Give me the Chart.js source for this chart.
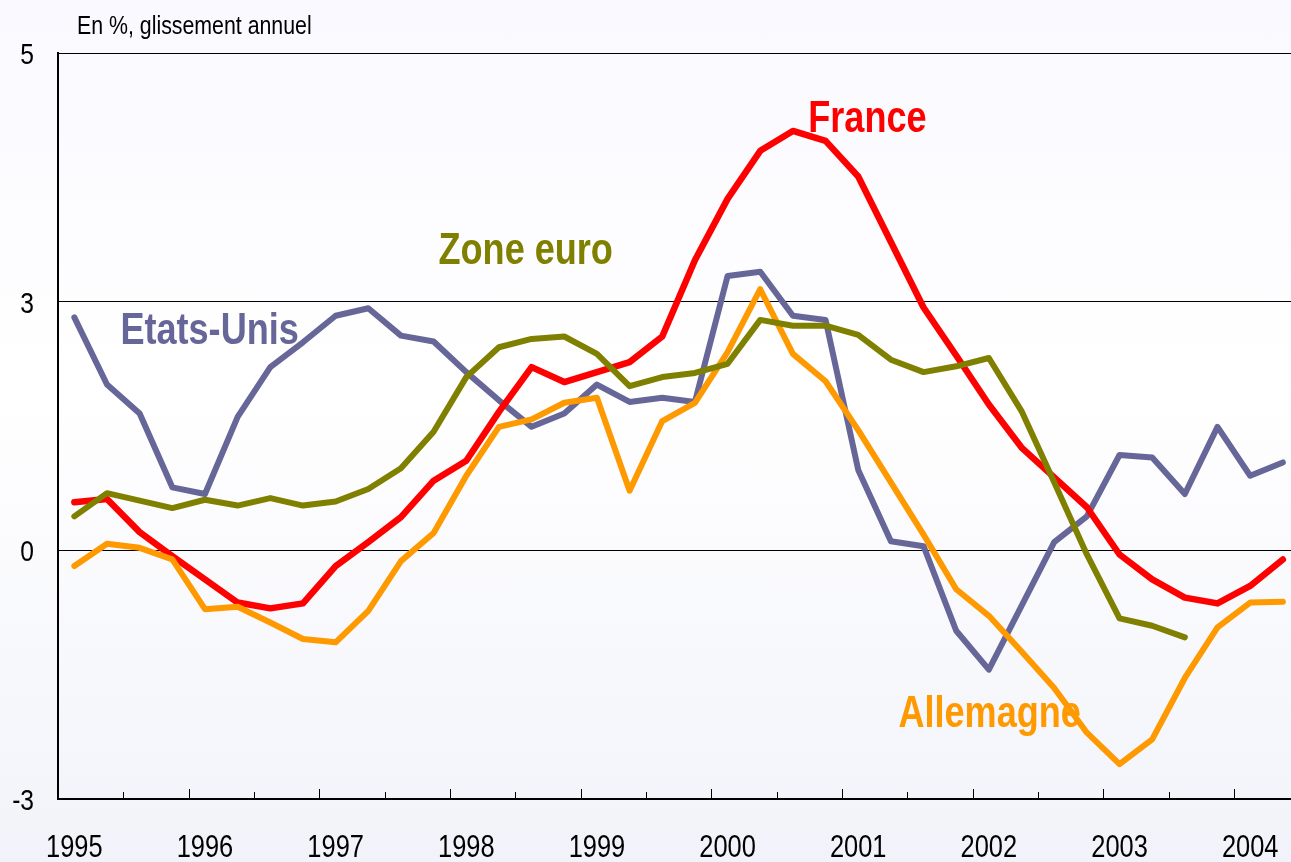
<!DOCTYPE html>
<html lang="fr">
<head>
<meta charset="utf-8">
<script src="https://cdn.jsdelivr.net/npm/chart.js@4.4.1/dist/chart.umd.min.js"></script>
<style>
  html, body { margin: 0; padding: 0; }
  body {
    width: 1291px; height: 862px; overflow: hidden;
    background: linear-gradient(to bottom, #f9f9ff 0%, #ffffff 45%, #f2f3fa 100%);
  }
  #cadre { position: relative; width: 1291px; height: 862px; }
</style>
</head>
<body>
<div id="cadre"><canvas id="graphique"></canvas></div>
<script>
// pas d'Arial Narrow dispo : Liberation Sans compressée horizontalement
const POLICE = "'Liberation Sans', Arial, sans-serif";
const ETROIT = 0.82;

// ---- données : glissement annuel trimestriel, 1995T1 -> 2004T2 ----
const trimestres = [
  '1995T1','1995T2','1995T3','1995T4','1996T1','1996T2','1996T3','1996T4',
  '1997T1','1997T2','1997T3','1997T4','1998T1','1998T2','1998T3','1998T4',
  '1999T1','1999T2','1999T3','1999T4','2000T1','2000T2','2000T3','2000T4',
  '2001T1','2001T2','2001T3','2001T4','2002T1','2002T2','2002T3','2002T4',
  '2003T1','2003T2','2003T3','2003T4','2004T1','2004T2',
];

const france = [
  0.58, 0.62, 0.22, -0.07, -0.35, -0.63, -0.70, -0.64,
  -0.19, 0.10, 0.40, 0.84, 1.08, 1.67, 2.21, 2.03,
  2.15, 2.27, 2.58, 3.50, 4.24, 4.82, 5.06, 4.94,
  4.51, 3.72, 2.93, 2.35, 1.76, 1.24, 0.88, 0.52,
  -0.05, -0.35, -0.57, -0.64, -0.43, -0.11,
];

const allemagne = [
  -0.19, 0.08, 0.03, -0.11, -0.71, -0.68, -0.87, -1.07,
  -1.11, -0.73, -0.13, 0.21, 0.90, 1.49, 1.58, 1.78,
  1.84, 0.72, 1.56, 1.78, 2.39, 3.15, 2.37, 2.04,
  1.45, 0.82, 0.19, -0.47, -0.79, -1.22, -1.66, -2.20,
  -2.58, -2.28, -1.54, -0.93, -0.63, -0.62,
];

const zoneEuro = [
  0.41, 0.69, 0.60, 0.51, 0.61, 0.54, 0.63, 0.54,
  0.59, 0.74, 0.99, 1.43, 2.09, 2.45, 2.55, 2.58,
  2.37, 1.98, 2.09, 2.14, 2.25, 2.78, 2.71, 2.71,
  2.60, 2.30, 2.15, 2.22, 2.32, 1.68, 0.82, -0.05,
  -0.82, -0.91, -1.05,
];

const etatsUnis = [
  2.81, 2.00, 1.65, 0.76, 0.68, 1.61, 2.21, 2.51,
  2.83, 2.92, 2.59, 2.52, 2.15, 1.81, 1.49, 1.65,
  2.00, 1.79, 1.84, 1.79, 3.31, 3.36, 2.83, 2.78,
  0.97, 0.11, 0.05, -0.97, -1.44, -0.67, 0.10, 0.41,
  1.15, 1.12, 0.68, 1.49, 0.90, 1.06,
];

// ---- axes ----
const xTickPos    = [0, 4, 8, 12, 16, 20, 24, 28, 32, 36];
const xTickLabels = ['1995','1996','1997','1998','1999','2000','2001','2002','2003','2004'];
const yTickPos    = [-3, 0, 3, 6];
const yTickLabels = ['-3', '0', '3', '5'];

// ---- étiquettes des séries (ancrées en coordonnées du graphique) ----
const etiquettes = [
  { texte: 'France',     couleur: '#ff0000', x: 22.47, y: 5.05 },
  { texte: 'Zone euro',  couleur: '#808000', x: 11.15, y: 3.45 },
  { texte: 'Etats-Unis', couleur: '#666699', x: 1.41,  y: 2.49 },
  { texte: 'Allemagne',  couleur: '#ff9900', x: 25.23, y: -2.13 },
];

function serie(valeurs) {
  return valeurs.map((v, i) => ({ x: i, y: v }));
}

function texteEtroit(ctx, texte, px, py, align) {
  ctx.save();
  ctx.translate(px, py);
  ctx.scale(ETROIT, 1);
  ctx.textAlign = align;
  ctx.textBaseline = 'alphabetic';
  ctx.fillText(texte, 0, 0);
  ctx.restore();
}

// graduations, libellés d'axes, titre et noms des séries
const annotations = {
  id: 'annotations',
  afterDraw(chart) {
    const { ctx, chartArea } = chart;
    const x = chart.scales.x, y = chart.scales.y;
    ctx.save();

    ctx.strokeStyle = '#000';
    ctx.lineWidth = 1;
    for (let v = 1.5; v < trimestres.length; v += 2) {
      const px = Math.round(x.getPixelForValue(v)) + 0.5;
      const long = (v - 3.5) % 4 === 0;
      ctx.beginPath();
      ctx.moveTo(px, chartArea.bottom);
      ctx.lineTo(px, chartArea.bottom - (long ? 10 : 7));
      ctx.stroke();
    }

    ctx.fillStyle = '#000';
    ctx.font = `31px ${POLICE}`;
    xTickPos.forEach((v, i) => texteEtroit(ctx, xTickLabels[i], x.getPixelForValue(v), 857, 'center'));

    ctx.font = `30px ${POLICE}`;
    yTickPos.forEach((v, i) => texteEtroit(ctx, yTickLabels[i], 34, y.getPixelForValue(v) + 11, 'right'));

    ctx.font = `26px ${POLICE}`;
    texteEtroit(ctx, 'En %, glissement annuel', 77, 34, 'left');

    ctx.font = `bold 44px ${POLICE}`;
    etiquettes.forEach(e => {
      ctx.fillStyle = e.couleur;
      texteEtroit(ctx, e.texte, x.getPixelForValue(e.x), y.getPixelForValue(e.y), 'left');
    });
    ctx.restore();
  }
};

const ligne = (label, valeurs, couleur, largeur, ordre) => ({
  label,
  data: serie(valeurs),
  borderColor: couleur,
  backgroundColor: couleur,
  borderWidth: largeur,
  borderCapStyle: 'round',
  borderJoinStyle: 'round',
  pointRadius: 0,
  tension: 0,
  fill: false,
  order: ordre,
});

new Chart(document.getElementById('graphique'), {
  type: 'line',
  data: {
    datasets: [
      ligne('Zone euro',  zoneEuro,  '#808000', 6,   0),
      ligne('Allemagne',  allemagne, '#ff9900', 6,   1),
      ligne('France',     france,    '#ff0000', 6.5, 2),
      ligne('Etats-Unis', etatsUnis, '#666699', 6,   3),
    ]
  },
  options: {
    responsive: true,
    maintainAspectRatio: false,
    animation: false,
    layout: { padding: { top: 53, right: 0, bottom: 0, left: 0 } },
    plugins: { legend: { display: false }, tooltip: { enabled: false } },
    scales: {
      x: {
        type: 'linear',
        min: -0.5,
        max: 37.25,
        afterBuildTicks: s => { s.ticks = xTickPos.map(v => ({ value: v })); },
        afterFit: s => { s.height = 63; },
        grid: { display: false, drawTicks: false },
        border: { display: true, color: '#000', width: 2 },
        ticks: { display: false },
      },
      y: {
        min: -3,
        max: 6,
        afterBuildTicks: s => { s.ticks = yTickPos.map(v => ({ value: v })); },
        afterFit: s => { s.width = 58; },
        grid: { color: '#000', lineWidth: 1, drawTicks: false },
        border: { display: true, color: '#000', width: 2 },
        ticks: { display: false },
      },
    },
  },
  plugins: [annotations],
});
</script>
</body>
</html>
